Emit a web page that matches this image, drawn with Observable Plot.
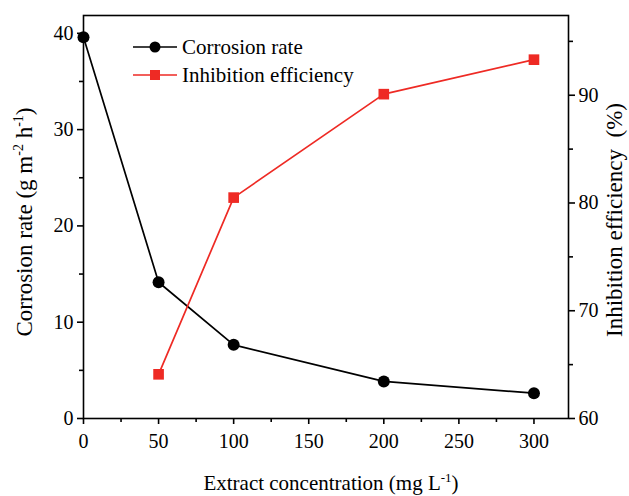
<!DOCTYPE html>
<html><head><meta charset="utf-8">
<script src="https://cdn.jsdelivr.net/npm/d3@7"></script>
<script src="https://cdn.jsdelivr.net/npm/@observablehq/plot@0.6"></script>
<style>body{margin:0;background:#fff;} svg{font-family:"Liberation Serif",serif;}</style>
</head><body><div id="chart"></div>
<script>
const concentration = [0, 50, 100, 200, 300];
const corrosionRate = [39.6, 14.15, 7.65, 3.85, 2.63];
const ieConcentration = [50, 100, 200, 300];
const inhibitionEff = [64.1, 80.5, 90.1, 93.3];
const xTicks = [0, 50, 100, 150, 200, 250, 300];
const xMinor = [25, 75, 125, 175, 225, 275];
const yLeftTicks = [0, 10, 20, 30, 40];
const yLeftMinor = [5, 15, 25, 35];
const yRightTicks = [60, 70, 80, 90];
const yRightMinor = [65, 75, 85, 95];

const leftDomain = [0, 41.85];
const rightDomain = [60, 97.4];
const r2l = d3.scaleLinear().domain(rightDomain).range(leftDomain);

const cr = concentration.map((c, i) => ({x: c, y: corrosionRate[i]}));
const ie = ieConcentration.map((c, i) => ({x: c, y: r2l(inhibitionEff[i])}));
const RED = "#ee2a24";

const plot = Plot.plot({
  width: 629, height: 496,
  marginLeft: 83, marginRight: 61, marginTop: 15, marginBottom: 78,
  style: {fontFamily: "Liberation Serif, serif", fontSize: "20px", color: "#000", background: "#fff"},
  x: {domain: [0, 323], label: null},
  y: {domain: leftDomain, label: null},
  marks: [
    Plot.frame({stroke: "#000", strokeWidth: 1.6}),
    Plot.axisX({ticks: xTicks, tickSize: 6, tickPadding: 9, tickFormat: d => d, strokeWidth: 1.6, fontSize: 20}),
    Plot.axisX({ticks: xMinor, tickSize: 4, tickFormat: () => "", strokeWidth: 1.6}),
    Plot.axisY({ticks: yLeftTicks, tickSize: 6, tickPadding: 4, tickFormat: d => d, strokeWidth: 1.6, fontSize: 20}),
    Plot.axisY({ticks: yLeftMinor, tickSize: 4, tickFormat: () => "", strokeWidth: 1.6}),
    Plot.axisY({anchor: "right", ticks: yRightTicks.map(r2l), tickSize: 6, tickPadding: 4, tickFormat: d => Math.round(r2l.invert(d)), strokeWidth: 1.6, fontSize: 20}),
    Plot.axisY({anchor: "right", ticks: yRightMinor.map(r2l), tickSize: 4, tickFormat: () => "", strokeWidth: 1.6}),
    Plot.line(cr, {x: "x", y: "y", stroke: "#000", strokeWidth: 1.7}),
    Plot.dot(cr, {x: "x", y: "y", r: 6, fill: "#000", stroke: "none"}),
    Plot.line(ie, {x: "x", y: "y", stroke: RED, strokeWidth: 1.7}),
    Plot.dot(ie, {x: "x", y: "y", symbol: "square", r: 6, fill: RED, stroke: "none"})
  ]
});
document.getElementById("chart").appendChild(plot);

const svg = d3.select(plot);
// axis titles with superscripts
const lt = svg.append("text").attr("transform", "translate(32,222) rotate(-90)")
  .attr("text-anchor", "middle").attr("font-size", 23).attr("fill", "#000");
lt.append("tspan").text("Corrosion rate (g m");
lt.append("tspan").attr("dy", -9).attr("font-size", 14).text("-2");
lt.append("tspan").attr("dy", 9).text(" h");
lt.append("tspan").attr("dy", -9).attr("font-size", 14).text("-1");
lt.append("tspan").attr("dy", 9).text(")");

svg.append("text").attr("transform", "translate(622,220) rotate(-90)")
  .attr("text-anchor", "middle").attr("font-size", 23).attr("fill", "#000")
  .text("Inhibition efficiency  (%)");

const bt = svg.append("text").attr("x", 331).attr("y", 490)
  .attr("text-anchor", "middle").attr("font-size", 21).attr("fill", "#000");
bt.append("tspan").text("Extract concentration (mg L");
bt.append("tspan").attr("dy", -8).attr("font-size", 13).text("-1");
bt.append("tspan").attr("dy", 8).text(")");

// legend
const lg = svg.append("g").attr("text-anchor", "start");
const items = [{label: "Corrosion rate", color: "#000", sym: "circle", y: 47},
               {label: "Inhibition efficiency", color: RED, sym: "square", y: 75}];
items.forEach(it => {
  lg.append("line").attr("x1", 133).attr("x2", 177).attr("y1", it.y).attr("y2", it.y)
    .attr("stroke", it.color).attr("stroke-width", 1.7);
  if (it.sym === "circle") lg.append("circle").attr("cx", 155).attr("cy", it.y).attr("r", 5.5).attr("fill", it.color);
  else lg.append("rect").attr("x", 150).attr("y", it.y - 5).attr("width", 10).attr("height", 10).attr("fill", it.color);
  lg.append("text").attr("x", 182).attr("y", it.y + 7).attr("font-size", 21).attr("fill", "#000")
    .attr("text-anchor", "start").text(it.label);
});
</script></body></html>
